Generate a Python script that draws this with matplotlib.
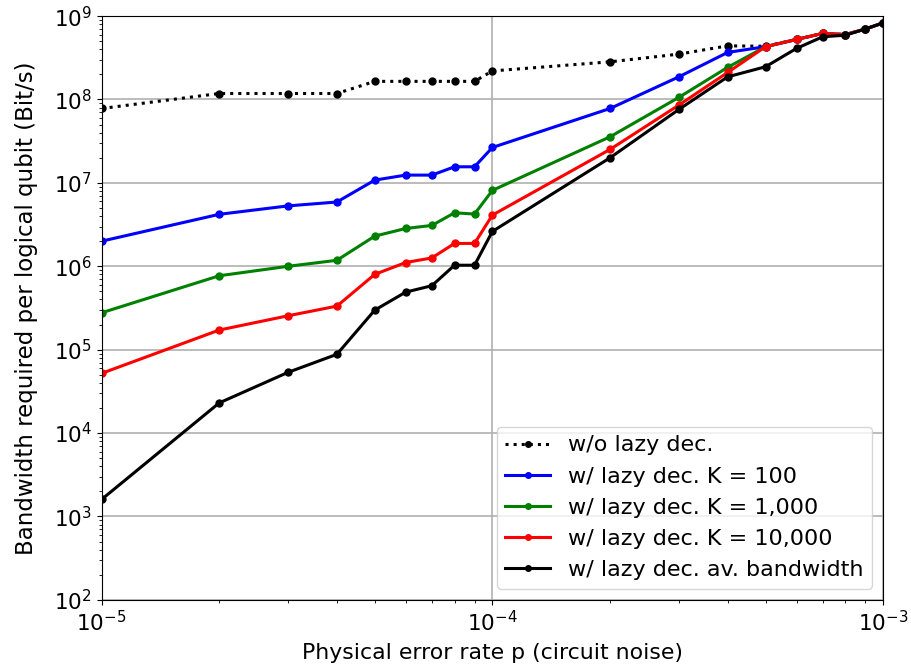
import matplotlib
matplotlib.use("Agg")
import matplotlib.pyplot as plt
import numpy as np

p = [1e-5, 2e-5, 3e-5, 4e-5, 5e-5, 6e-5, 7e-5, 8e-5, 9e-5,
     1e-4, 2e-4, 3e-4, 4e-4, 5e-4, 6e-4, 7e-4, 8e-4, 9e-4, 1e-3]

# bandwidth in Bit/s
no_lazy = [7.8e7, 1.18e8, 1.18e8, 1.18e8, 1.65e8, 1.65e8, 1.65e8, 1.65e8, 1.65e8,
           2.2e8, 2.83e8, 3.5e8, 4.4e8, 4.35e8, 5.25e8, 6.2e8, 6.0e8, 7.0e8, 8.3e8]
lazy_k100 = [2.0e6, 4.2e6, 5.3e6, 5.9e6, 1.08e7, 1.24e7, 1.24e7, 1.56e7, 1.56e7,
             2.66e7, 7.8e7, 1.87e8, 3.67e8, 4.3e8, 5.25e8, 6.2e8, 6.0e8, 7.0e8, 8.3e8]
lazy_k1000 = [2.77e5, 7.7e5, 1.0e6, 1.18e6, 2.3e6, 2.84e6, 3.09e6, 4.38e6, 4.23e6,
              8.13e6, 3.57e7, 1.06e8, 2.43e8, 4.3e8, 5.25e8, 6.2e8, 6.0e8, 7.0e8, 8.3e8]
lazy_k10000 = [5.2e4, 1.72e5, 2.55e5, 3.33e5, 8.0e5, 1.11e6, 1.26e6, 1.88e6, 1.88e6,
               4.11e6, 2.52e7, 8.57e7, 2.11e8, 4.3e8, 5.25e8, 6.2e8, 6.0e8, 7.0e8, 8.3e8]
lazy_avg = [1.6e3, 2.3e4, 5.35e4, 8.8e4, 2.98e5, 4.9e5, 5.85e5, 1.03e6, 1.03e6,
            2.62e6, 2.0e7, 7.6e7, 1.87e8, 2.47e8, 4.1e8, 5.65e8, 5.9e8, 7.0e8, 8.3e8]

fig = plt.figure(figsize=(9.11, 6.71), dpi=100)
ax = fig.add_axes([0.1115, 0.106, 0.858, 0.87])

ax.plot(p, no_lazy, 'k:', marker='o', markersize=5, linewidth=2.2, label='w/o lazy dec.')
ax.plot(p, lazy_k100, color='blue', marker='o', markersize=5, linewidth=2.2, label='w/ lazy dec. K = 100')
ax.plot(p, lazy_k1000, color='green', marker='o', markersize=5, linewidth=2.2, label='w/ lazy dec. K = 1,000')
ax.plot(p, lazy_k10000, color='red', marker='o', markersize=5, linewidth=2.2, label='w/ lazy dec. K = 10,000')
ax.plot(p, lazy_avg, color='black', marker='o', markersize=5, linewidth=2.2, label='w/ lazy dec. av. bandwidth')

ax.set_xscale('log')
ax.set_yscale('log')
ax.set_xlim(1e-5, 1e-3)
ax.set_ylim(1e2, 1e9)
ax.grid(True, which='major', color='#b0b0b0', linewidth=1.2)
ax.set_axisbelow(True)

ax.tick_params(labelsize=15.5)
ax.set_xlabel('Physical error rate p (circuit noise)', fontsize=15.8, labelpad=6)
ax.set_ylabel('Bandwidth required per logical qubit (Bit/s)', fontsize=16.5, labelpad=11)
ax.legend(loc='lower right', fontsize=16, borderaxespad=0.5, markerscale=0.8)

fig.savefig('out.png', dpi=100)
